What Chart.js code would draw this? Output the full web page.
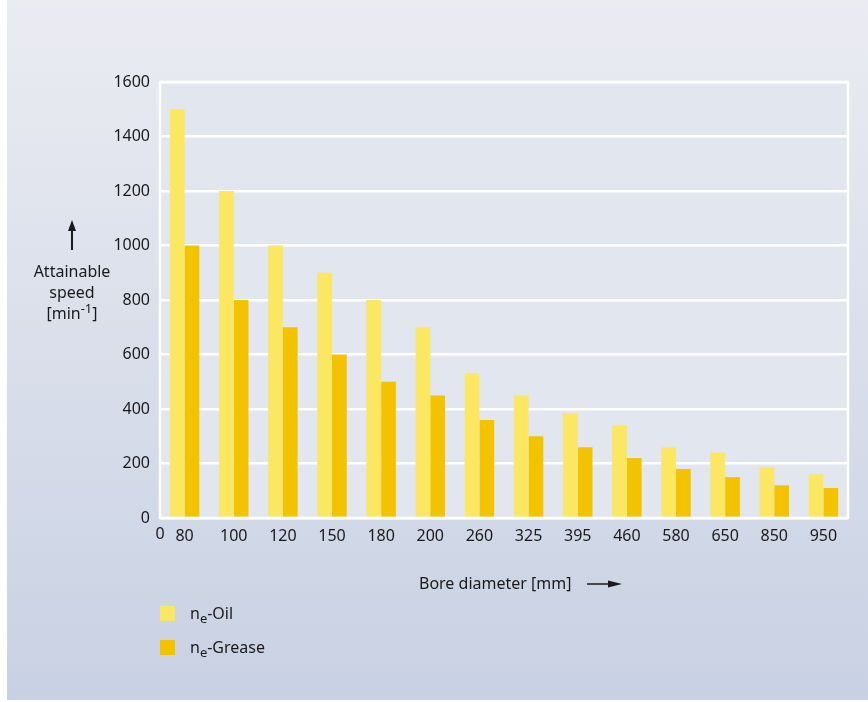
<!DOCTYPE html>
<html>
<head>
<meta charset="utf-8">
<script src="https://cdn.jsdelivr.net/npm/chart.js@4/dist/chart.umd.min.js"></script>
<style>
  html, body { margin: 0; padding: 0; background: #fff; }
  #wrap { width: 868px; height: 702px; position: relative; }
</style>
</head>
<body>
<div id="wrap"><canvas id="speedChart" width="868" height="702"></canvas></div>
<script>
// bore diameters and attainable speeds
const boreDiameters = ['80', '100', '120', '150', '180', '200', '260', '325', '395', '460', '580', '650', '850', '950'];
const oilSpeed = [1500, 1200, 1000, 900, 800, 700, 530, 450, 385, 340, 260, 240, 185, 160];
const greaseSpeed = [1000, 800, 700, 600, 500, 450, 360, 300, 260, 220, 180, 150, 120, 110];
const speedTicks = [0, 200, 400, 600, 800, 1000, 1200, 1400, 1600];

const FONT = "'Noto Sans', 'Liberation Sans', sans-serif";
const oilColor = '#fbe762';
const greaseColor = '#f4c300';

// background panel + plot area fill
const backdrop = {
  id: 'backdrop',
  beforeDraw(chart) {
    const ctx = chart.ctx;
    const a = chart.chartArea;
    const g = ctx.createLinearGradient(0, 0, 0, 702);
    g.addColorStop(0, '#ebecf2');
    g.addColorStop(1, '#c8d1e3');
    ctx.save();
    ctx.fillStyle = '#ffffff';
    ctx.fillRect(0, 0, 868, 702);
    ctx.fillStyle = g;
    ctx.fillRect(7, 0, 861, 700);
    ctx.fillStyle = '#e1e6ef';
    ctx.fillRect(a.left, a.top, a.right - a.left, a.bottom - a.top);
    ctx.restore();
  },
  afterDatasetsDraw(chart) {
    const ctx = chart.ctx;
    const a = chart.chartArea;
    ctx.save();
    ctx.strokeStyle = '#ffffff';
    ctx.lineWidth = 2.5;
    ctx.strokeRect(a.left, a.top, a.right - a.left, a.bottom - a.top);
    ctx.restore();
  }
};

// text with subscript / superscript pieces
function drawParts(ctx, parts, x, y, align) {
  ctx.font = '16px ' + FONT;
  let total = 0;
  parts.forEach(p => {
    ctx.font = (p.small ? '13px ' : '16px ') + FONT;
    total += ctx.measureText(p.t).width;
  });
  let cx = align === 'center' ? x - total / 2 : x;
  ctx.textAlign = 'left';
  ctx.textBaseline = 'middle';
  parts.forEach(p => {
    ctx.font = (p.small ? '13px ' : '16px ') + FONT;
    ctx.fillText(p.t, cx, y + (p.dy || 0));
    cx += ctx.measureText(p.t).width;
  });
}

const annotations = {
  id: 'annotations',
  afterDraw(chart) {
    const ctx = chart.ctx;
    const a = chart.chartArea;
    ctx.save();
    ctx.fillStyle = '#1a1a1a';
    ctx.strokeStyle = '#1a1a1a';

    // "0" under the origin of the x axis
    ctx.font = '16px ' + FONT;
    ctx.textAlign = 'center';
    ctx.textBaseline = 'middle';
    ctx.fillText('0', a.left, a.bottom + 16);

    // y axis title with arrow
    ctx.lineWidth = 2;
    ctx.beginPath();
    ctx.moveTo(72, 250);
    ctx.lineTo(72, 228);
    ctx.stroke();
    ctx.beginPath();
    ctx.moveTo(72, 220);
    ctx.lineTo(68, 231);
    ctx.lineTo(76, 231);
    ctx.closePath();
    ctx.fill();
    drawParts(ctx, [{ t: 'Attainable' }], 72, 272, 'center');
    drawParts(ctx, [{ t: 'speed' }], 72, 293, 'center');
    drawParts(ctx, [{ t: '[min' }, { t: '-1', small: true, dy: -5 }, { t: ']' }], 72, 314, 'center');

    // x axis title with arrow
    drawParts(ctx, [{ t: 'Bore diameter [mm]' }], 419, 584, 'left');
    ctx.lineWidth = 1.5;
    ctx.beginPath();
    ctx.moveTo(587, 584);
    ctx.lineTo(610, 584);
    ctx.stroke();
    ctx.beginPath();
    ctx.moveTo(622, 584);
    ctx.lineTo(608, 580.5);
    ctx.lineTo(608, 587.5);
    ctx.closePath();
    ctx.fill();

    // legend
    ctx.fillStyle = oilColor;
    ctx.fillRect(160, 606, 15, 15);
    ctx.fillStyle = greaseColor;
    ctx.fillRect(160, 640, 15, 15);
    ctx.fillStyle = '#1a1a1a';
    drawParts(ctx, [{ t: 'n' }, { t: 'e', small: true, dy: 5 }, { t: '-Oil' }], 190, 614, 'left');
    drawParts(ctx, [{ t: 'n' }, { t: 'e', small: true, dy: 5 }, { t: '-Grease' }], 190, 648, 'left');
    ctx.restore();
  }
};

const ctx = document.getElementById('speedChart').getContext('2d');
new Chart(ctx, {
  type: 'bar',
  data: {
    labels: boreDiameters,
    datasets: [
      { label: 'ne-Oil', data: oilSpeed, backgroundColor: oilColor, barPercentage: 1, categoryPercentage: 0.6 },
      { label: 'ne-Grease', data: greaseSpeed, backgroundColor: greaseColor, barPercentage: 1, categoryPercentage: 0.6 }
    ]
  },
  options: {
    responsive: false,
    animation: false,
    devicePixelRatio: 1,
    layout: { padding: { left: 0, top: 82, right: 20, bottom: 0 } },
    plugins: { legend: { display: false }, tooltip: { enabled: false } },
    scales: {
      x: {
        grid: { display: false },
        border: { display: false },
        ticks: { color: '#1a1a1a', font: { family: FONT, size: 16 }, padding: 1, maxRotation: 0 },
        afterFit(scale) { scale.height = 702 - 518; }
      },
      y: {
        min: 0,
        max: 1600,
        afterBuildTicks(scale) { scale.ticks = speedTicks.map(v => ({ value: v })); },
        grid: { color: '#ffffff', lineWidth: 2.5, drawTicks: false },
        border: { display: false },
        ticks: {
          color: '#1a1a1a',
          font: { family: FONT, size: 16 },
          padding: 10,
          callback: v => String(v)
        },
        afterFit(scale) { scale.width = 160; }
      }
    }
  },
  plugins: [backdrop, annotations]
});
</script>
</body>
</html>
